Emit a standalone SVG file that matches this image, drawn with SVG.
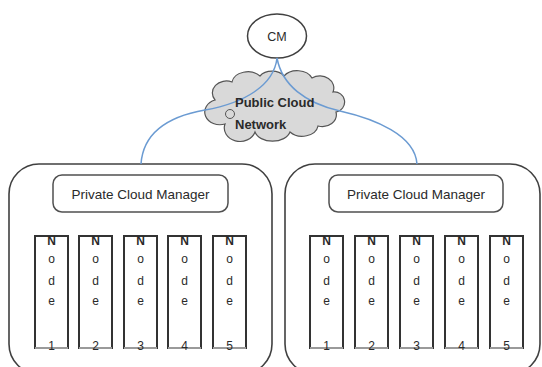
<svg xmlns="http://www.w3.org/2000/svg" width="542" height="367" viewBox="0 0 542 367">
<style>
text{font-family:"Liberation Sans",Arial,sans-serif;fill:#2a2a2a}
.box{fill:#fff;stroke:#404040;stroke-width:1.6}
.pcm{fill:#fff;stroke:#505050;stroke-width:1.5}
.pcmt{font-size:13.5px;text-anchor:middle}
.node{fill:#fff;stroke:#333;stroke-width:2}
.nb{stroke:#9a9a9a;stroke-width:2}
.nt{font-size:12px;text-anchor:middle}
.nt .b{font-weight:bold}
.conn{fill:none;stroke:#6b9bd2;stroke-width:1.5}
.cloud{fill:#d9d9d9;stroke:#555;stroke-width:1.2}
</style>
<defs>
<g id="nodeShape">
<rect class="node" x="0" y="236" width="33" height="112"/>
<line class="nb" x1="0" y1="348" x2="33" y2="348"/>
</g>
</defs>

<g id="private-cloud-1">
<rect class="box" x="9" y="164" width="263" height="210" rx="30" ry="30"/>
</g>
<g id="private-cloud-2">
<rect class="box" x="285" y="164" width="255" height="210" rx="30" ry="30"/>
</g>

<g id="cm">
<ellipse cx="277" cy="36" rx="29.5" ry="22" fill="#fff" stroke="#404040" stroke-width="1.5"/>
<text x="277" y="40.5" font-size="12.5" text-anchor="middle">CM</text>
</g>

<g id="public-cloud">
<path class="cloud" d="M215,100 A14,12 0 0 1 232,82 A16,12 0 0 1 260,76 A14,10 0 0 1 284,76 A16,12 0 0 1 312,78 A14,12 0 0 1 333,92 A10,10 0 0 1 336,112 A14,12 0 0 1 318,126 A16,12 0 0 1 290,132 A18,12 0 0 1 255,132 A14,12 0 0 1 225,124 A12,10 0 0 1 215,100 Z"/>
<circle cx="230" cy="114" r="4.5" fill="#d9d9d9" stroke="#555" stroke-width="1"/>
</g>

<g id="connectors">
<path class="conn" d="M277,58 C274,85 245,103 205,110 S143,135 141,164"/>
<path class="conn" d="M277,58 C282,85 305,103 340,111 S415,135 417,164"/>
</g>

<g id="cloud-label">
<text x="235" y="106.5" font-size="13" font-weight="bold">Public Cloud</text>
<text x="235" y="129" font-size="13" font-weight="bold">Network</text>
</g>

<g id="pcm-1">
<rect class="pcm" x="53" y="175" width="175" height="37" rx="9"/>
<text class="pcmt" x="140.5" y="198.5">Private Cloud Manager</text>
</g>
<g id="pcm-2">
<rect class="pcm" x="329" y="175" width="174" height="37" rx="9"/>
<text class="pcmt" x="416" y="198.5">Private Cloud Manager</text>
</g>

<g id="node-1-1"><use href="#nodeShape" x="35"/><text class="nt"><tspan class="b" x="51.5" y="245">N</tspan><tspan x="51.5" y="263">o</tspan><tspan x="51.5" y="285">d</tspan><tspan x="51.5" y="305">e</tspan><tspan x="51.5" y="350">1</tspan></text></g>
<g id="node-1-2"><use href="#nodeShape" x="79"/><text class="nt"><tspan class="b" x="95.5" y="245">N</tspan><tspan x="95.5" y="263">o</tspan><tspan x="95.5" y="285">d</tspan><tspan x="95.5" y="305">e</tspan><tspan x="95.5" y="350">2</tspan></text></g>
<g id="node-1-3"><use href="#nodeShape" x="124"/><text class="nt"><tspan class="b" x="140.5" y="245">N</tspan><tspan x="140.5" y="263">o</tspan><tspan x="140.5" y="285">d</tspan><tspan x="140.5" y="305">e</tspan><tspan x="140.5" y="350">3</tspan></text></g>
<g id="node-1-4"><use href="#nodeShape" x="168"/><text class="nt"><tspan class="b" x="184.5" y="245">N</tspan><tspan x="184.5" y="263">o</tspan><tspan x="184.5" y="285">d</tspan><tspan x="184.5" y="305">e</tspan><tspan x="184.5" y="350">4</tspan></text></g>
<g id="node-1-5"><use href="#nodeShape" x="213"/><text class="nt"><tspan class="b" x="229.5" y="245">N</tspan><tspan x="229.5" y="263">o</tspan><tspan x="229.5" y="285">d</tspan><tspan x="229.5" y="305">e</tspan><tspan x="229.5" y="350">5</tspan></text></g>

<g id="node-2-1"><use href="#nodeShape" x="310"/><text class="nt"><tspan class="b" x="326.5" y="245">N</tspan><tspan x="326.5" y="263">o</tspan><tspan x="326.5" y="285">d</tspan><tspan x="326.5" y="305">e</tspan><tspan x="326.5" y="350">1</tspan></text></g>
<g id="node-2-2"><use href="#nodeShape" x="355"/><text class="nt"><tspan class="b" x="371.5" y="245">N</tspan><tspan x="371.5" y="263">o</tspan><tspan x="371.5" y="285">d</tspan><tspan x="371.5" y="305">e</tspan><tspan x="371.5" y="350">2</tspan></text></g>
<g id="node-2-3"><use href="#nodeShape" x="400"/><text class="nt"><tspan class="b" x="416.5" y="245">N</tspan><tspan x="416.5" y="263">o</tspan><tspan x="416.5" y="285">d</tspan><tspan x="416.5" y="305">e</tspan><tspan x="416.5" y="350">3</tspan></text></g>
<g id="node-2-4"><use href="#nodeShape" x="445"/><text class="nt"><tspan class="b" x="461.5" y="245">N</tspan><tspan x="461.5" y="263">o</tspan><tspan x="461.5" y="285">d</tspan><tspan x="461.5" y="305">e</tspan><tspan x="461.5" y="350">4</tspan></text></g>
<g id="node-2-5"><use href="#nodeShape" x="490"/><text class="nt"><tspan class="b" x="506.5" y="245">N</tspan><tspan x="506.5" y="263">o</tspan><tspan x="506.5" y="285">d</tspan><tspan x="506.5" y="305">e</tspan><tspan x="506.5" y="350">5</tspan></text></g>
</svg>
